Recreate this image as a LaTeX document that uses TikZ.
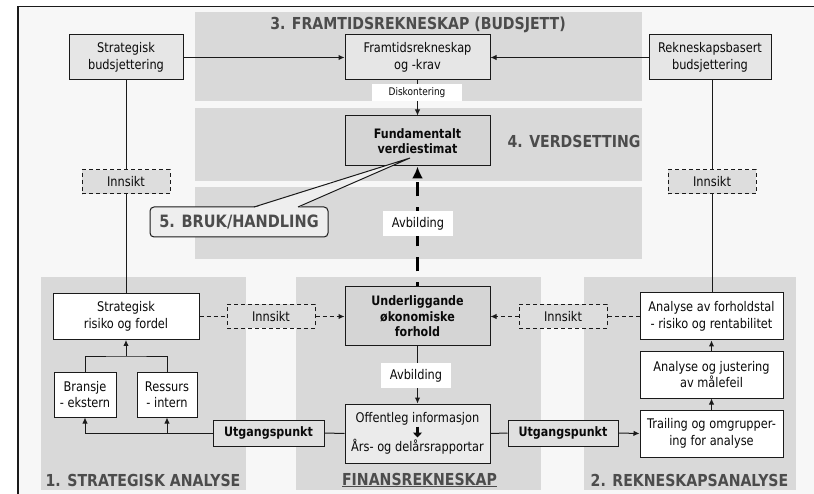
\documentclass[tikz,border=0pt]{standalone}
\usepackage{fontspec}
\setmainfont{DejaVu Sans}[FakeStretch=0.855]
\usetikzlibrary{arrows.meta,calc}
\definecolor{bgc}{HTML}{F7F7F7}
\definecolor{panelc}{HTML}{D9D9D9}
\definecolor{lightc}{HTML}{E6E6E6}
\definecolor{darkc}{HTML}{D5D5D5}
\definecolor{offc}{HTML}{EBEBEB}
\definecolor{utgc}{HTML}{E0E0E0}
\definecolor{insc}{HTML}{DDDDDD}
\definecolor{callc}{HTML}{EEEEEE}
\definecolor{headc}{HTML}{4C4C4C}
\definecolor{linec}{HTML}{1A1A1A}
\definecolor{txtc}{HTML}{0A0A0A}
\tikzset{
  box/.style={draw=linec, line width=1pt, inner sep=0pt, align=center, text=txtc,
    font=\fontsize{13.3}{16.5}\selectfont},
  boldbox/.style={box, font=\fontsize{13}{15}\selectfont\bfseries},
  insbox/.style={box, dashed, dash pattern=on 4pt off 3pt, fill=insc, minimum width=88pt, minimum height=24pt},
  lbl/.style={fill=white, inner sep=0pt, align=center, text=txtc, font=\fontsize{13.3}{15}\selectfont},
  heading/.style={text=headc, inner sep=0pt, font=\fontsize{16.5}{18}\selectfont\bfseries},
  conn/.style={draw=linec, line width=1pt},
  arr/.style={conn, -{Latex[length=6pt,width=5.5pt]}},
  darr/.style={arr, dashed, dash pattern=on 4pt off 3pt},
  dline/.style={conn, dashed, dash pattern=on 4pt off 3pt},
  thickarr/.style={draw=black, line width=3.5pt, dash pattern=on 14pt off 11pt, dash phase=10pt,
    -{Latex[length=12pt,width=11pt]}},
  boldarrow/.style={draw=txtc, line width=2.2pt, -{Triangle[length=5pt,width=9pt]}},
}
\begin{document}
\begin{tikzpicture}[x=1pt,y=-1pt]
\useasboundingbox (0,0) rectangle (814,494);
\fill[white] (0,0) rectangle (814,494);
\fill[bgc] (18,6.5) rectangle (814,494);
\draw[line width=1.3pt, linec] (18,494) -- (18,6.5) -- (814,6.5);
% panels
\fill[panelc] (195,12) rectangle (642,101.5);
\fill[panelc] (195,108) rectangle (642,181);
\fill[panelc] (195,187) rectangle (642,259.5);
\fill[panelc] (41,277) rectangle (246,490);
\fill[panelc] (296,277) rectangle (541,490);
\fill[panelc] (584,277) rectangle (796,490);
% headings
\node[heading] (h3) at (418,25) {3. FRAMTIDSREKNESKAP (BUDSJETT)};
\node[heading] (h4) at (574,141) {4. VERDSETTING};
\node[heading] (h1) at (143,480) {1. STRATEGISK ANALYSE};
\node[heading] (hf) at (419.5,480) {\underline{FINANSREKNESKAP}};
\node[heading] (h2) at (689.5,480) {2. REKNESKAPSANALYSE};
% nodes
\node[box, fill=lightc, minimum width=114pt, minimum height=45pt] (sb) at (126,57.5) {Strategisk\\budsjettering};
\node[box, fill=lightc, minimum width=145pt, minimum height=45pt] (ft) at (417.5,57.5) {Framtidsrekneskap\\og -krav};
\node[box, fill=lightc, minimum width=122pt, minimum height=45pt] (rb) at (710,57.5) {Rekneskapsbasert\\budsjettering};
\node[boldbox, fill=darkc, minimum width=145pt, minimum height=50pt] (fv) at (417.5,141) {Fundamentalt\\verdiestimat};
\node[boldbox, fill=darkc, minimum width=145pt, minimum height=59pt, font=\fontsize{13}{15.5}\selectfont\bfseries] (ul) at (417.5,316.5) {Underliggande\\økonomiske\\forhold};
\node[box, fill=offc, minimum width=145pt, minimum height=59pt, font=\fontsize{13.3}{29}\selectfont] (of) at (417.5,433.5) {Offentleg informasjon\\Års- og delårsrapportar};
\draw[boldarrow] ($(of.center)+(0,-7)$) -- ($(of.center)+(0,4)$);
\node[box, fill=white, minimum width=146pt, minimum height=46pt] (sr) at (126,316.5) {Strategisk\\risiko og fordel};
\node[box, fill=white, minimum width=62pt, minimum height=45pt] (br) at (85,394.5) {Bransje\\- ekstern};
\node[box, fill=white, minimum width=60pt, minimum height=45pt] (re) at (167,394.5) {Ressurs\\- intern};
\node[boldbox, fill=utgc, minimum width=111pt, minimum height=26pt] (ug1) at (268.5,433) {Utgangspunkt};
\node[boldbox, fill=utgc, minimum width=110pt, minimum height=26pt] (ug2) at (563,433) {Utgangspunkt};
\node[box, fill=white, minimum width=143pt, minimum height=47pt] (af) at (711.5,316.5) {Analyse av forholdstal\\- risiko og rentabilitet};
\node[box, fill=white, minimum width=143pt, minimum height=47pt] (aj) at (711.5,374.5) {Analyse og justering\\av målefeil};
\node[box, fill=white, minimum width=143pt, minimum height=47pt] (tr) at (711.5,433.5) {Trailing og omgrupper-\\ing for analyse};
\node[insbox] (in1) at (126,182) {Innsikt};
\node[insbox] (in4) at (712,182) {Innsikt};
\node[insbox] (in2) at (271,316.5) {Innsikt};
\node[insbox] (in3) at (563,316.5) {Innsikt};
% connectors
\draw[arr] (sb.east) -- (ft.west);
\draw[arr] (rb.west) -- (ft.east);
\draw[conn] (sb.south) -- (in1.north);
\draw[conn] (in1.south) -- (sr.north);
\draw[conn] (rb.south -| in4.north) -- (in4.north);
\draw[conn] (in4.south) -- (af.north -| in4.south);
\draw[arr] (ft.south) -- (fv.north);
\draw[thickarr] (ul.north) -- (fv.south);
\draw[arr] (ul.south) -- (of.north);
\draw[dline] (sr.east) -- (in2.west);
\draw[darr] (in2.east) -- (ul.west);
\draw[dline] (af.west) -- (in3.east);
\draw[darr] (in3.west) -- (ul.east);
\coordinate (j) at (126,356);
\draw[conn] (br.north) |- (j) -| (re.north);
\draw[arr] (j) -- (sr.south);
\draw[conn] (of.west) -- (ug1.east);
\draw[arr] (ug1.west) -| (br.south);
\draw[arr] (re.south |- ug1.west) -- (re.south);
\draw[conn] (of.east) -- (ug2.west);
\draw[arr] (ug2.east) -- (tr.west);
\draw[arr] (tr.north) -- (aj.south);
\draw[arr] (aj.north) -- (af.south);
% labels on connectors
\node[lbl, minimum width=90pt, minimum height=17pt, font=\fontsize{10.5}{12}\selectfont] (disk) at (417,92.5) {Diskontering};
\node[lbl, minimum width=70pt, minimum height=25pt] (av1) at (418,223.5) {Avbilding};
\node[lbl, minimum width=70pt, minimum height=25pt] (av2) at (416,375.5) {Avbilding};
% callout
\node[draw=linec, line width=1pt, rounded corners=4pt, fill=callc, minimum width=178pt, minimum height=30pt,
  inner sep=0pt, text=headc, font=\fontsize{17}{18}\selectfont\bfseries] (bruk) at (239,222) {5. BRUK/HANDLING};
\coordinate (tip) at (410,158);
\fill[callc] (254,207.8) -- (tip) -- (298,207.8) -- cycle;
\draw[conn] (254,207) -- (tip) -- (298,207);
\end{tikzpicture}
\end{document}
